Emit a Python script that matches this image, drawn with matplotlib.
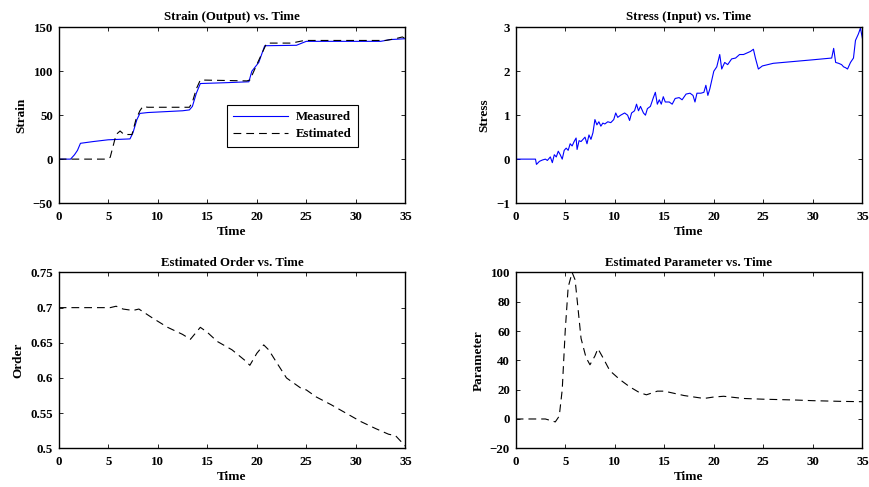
import numpy as np
import matplotlib
matplotlib.use("Agg")
import matplotlib.pyplot as plt

plt.rcParams["font.family"] = ["Liberation Serif", "DejaVu Serif"]
plt.rcParams["font.weight"] = "bold"
plt.rcParams["font.size"] = 9.3
plt.rcParams["axes.titlesize"] = 9.3
plt.rcParams["axes.titleweight"] = "bold"
plt.rcParams["axes.labelweight"] = "bold"
plt.rcParams["axes.labelsize"] = 9.5

# strain, measured (blue)
t_meas = [0, 1.2, 1.6, 1.9, 2.2, 3.5, 5.0, 7.2, 7.5, 7.9, 8.2, 9.0, 12.5, 13.2, 13.5,
          13.9, 14.3, 17.0, 19.2, 19.5, 20.2, 20.8, 24.0, 25.0, 32.5, 33.5, 35.0]
strain_meas = [0, 0, 5, 10, 18, 20, 22, 23, 30, 45, 52, 53, 55, 56, 60,
               75, 86, 87, 88, 100, 110, 129, 129.5, 134, 134, 136, 137]

# strain, estimated (dashed)
t_est = [0, 4.8, 5.2, 5.5, 5.8, 6.2, 6.6, 7.4, 7.8, 8.2, 8.5, 9.0, 13.2, 13.5, 13.9,
         14.3, 19.0, 19.3, 20.1, 21.0, 23.5, 24.8, 33.0, 34.0, 34.7, 35.0]
strain_est = [0, 0, 2, 15, 28, 32, 28, 28, 45, 55, 60, 59, 59, 65, 80,
              90, 89, 90, 110, 132, 132, 135, 135, 137, 139, 137]

# stress input
t_stress = [0, 2.0, 2.1, 2.4, 2.7, 3.0, 3.2, 3.5, 3.7, 3.9, 4.1, 4.3, 4.5, 4.7, 4.9,
            5.1, 5.3, 5.5, 5.7, 5.9, 6.1, 6.2, 6.4, 6.6, 6.8, 7.0, 7.2, 7.4, 7.6,
            7.8, 8.0, 8.2, 8.4, 8.6, 8.8, 9.0, 9.3, 9.6, 9.9, 10.1, 10.3, 10.6,
            11.0, 11.3, 11.5, 11.7, 12.0, 12.2, 12.4, 12.6, 12.9, 13.1, 13.3, 13.6,
            13.9, 14.1, 14.3, 14.5, 14.7, 14.9, 15.1, 15.5, 15.8, 16.1, 16.5, 16.8,
            17.2, 17.6, 17.9, 18.1, 18.3, 18.7, 19.0, 19.2, 19.4, 19.6, 19.8, 20.0,
            20.3, 20.6, 20.8, 21.1, 21.4, 21.8, 22.2, 22.6, 23.0, 23.4, 23.7, 24.0,
            24.2, 24.5, 24.9, 26.0, 28.0, 30.0, 31.9, 32.1, 32.3, 32.6, 32.9, 33.1,
            33.3, 33.5, 33.8, 34.1, 34.3, 34.6, 34.8, 35.0]
stress = [0, 0, -0.12, -0.05, -0.02, 0.0, -0.03, 0.05, -0.08, 0.1, 0.05, 0.18, 0.1, 0.0, 0.2,
          0.25, 0.2, 0.35, 0.3, 0.4, 0.48, 0.22, 0.42, 0.4, 0.45, 0.5, 0.35, 0.55, 0.45,
          0.6, 0.9, 0.78, 0.85, 0.75, 0.82, 0.8, 0.85, 0.83, 0.9, 1.05, 0.95, 1.0,
          1.05, 1.0, 0.88, 1.05, 1.1, 1.25, 1.1, 1.2, 1.05, 1.0, 1.15, 1.2,
          1.4, 1.52, 1.25, 1.35, 1.25, 1.42, 1.3, 1.3, 1.25, 1.38, 1.4, 1.35,
          1.48, 1.5, 1.45, 1.3, 1.5, 1.5, 1.52, 1.68, 1.45, 1.6, 1.8, 2.0,
          2.1, 2.38, 2.05, 2.2, 2.15, 2.28, 2.3, 2.38, 2.38, 2.42, 2.45, 2.5,
          2.3, 2.05, 2.12, 2.18, 2.22, 2.26, 2.3, 2.52, 2.2, 2.18, 2.15, 2.1,
          2.08, 2.05, 2.2, 2.3, 2.7, 2.85, 2.98, 2.75]

# estimated order
t_order = [0, 5.2, 5.8, 6.5, 7.5, 8.1, 9.5, 11.0, 12.5, 13.3, 14.3, 15.0, 16.0, 17.5,
           18.8, 19.3, 20.0, 20.7, 21.2, 22.0, 23.0, 24.5, 25.0, 26.0, 27.5, 29.0,
           30.5, 32.0, 33.3, 34.0, 35.0]
order = [0.7, 0.7, 0.702, 0.698, 0.696, 0.698, 0.685, 0.672, 0.662, 0.655, 0.672, 0.665,
         0.652, 0.64, 0.625, 0.618, 0.635, 0.647, 0.64, 0.622, 0.6, 0.585, 0.583, 0.573,
         0.562, 0.55, 0.538, 0.528, 0.52, 0.518, 0.503]

# estimated parameter
t_param = [0, 3.0, 3.5, 4.0, 4.4, 4.7, 5.0, 5.3, 5.7, 6.0, 6.3, 6.6, 7.1, 7.5, 8.0, 8.3,
           8.8, 9.5, 10.5, 11.5, 12.5, 13.2, 14.3, 15.0, 17.0, 19.0, 20.0, 21.0, 23.0,
           25.0, 28.0, 30.0, 33.0, 35.0]
param = [0, 0, -1, -2, 2, 20, 60, 90, 100, 95, 75, 55, 42, 37, 43, 48,
         42, 33, 27, 22, 18, 16.5, 19, 19, 16, 14, 15, 15.5, 14,
         13.5, 13, 12.5, 12, 11.8]

fig = plt.figure(figsize=(8.69, 4.87), dpi=100)
left_x, right_x, w = 0.0675, 0.5934, 0.3990
top_y, bot_y, h = 0.583, 0.0795, 0.361
ax1 = fig.add_axes([left_x, top_y, w, h])
ax2 = fig.add_axes([right_x, top_y, w, h])
ax3 = fig.add_axes([left_x, bot_y, w, h])
ax4 = fig.add_axes([right_x, bot_y, w, h])

dash = (7, 4.5)

ax1.plot(t_meas, strain_meas, color="blue", lw=0.8, label="Measured")
ax1.plot(t_est, strain_est, color="black", lw=0.8, dashes=dash, label="Estimated")
ax1.set_ylim(-50, 150)
ax1.set_yticks([-50, 0, 50, 100, 150])
ax1.set_ylabel("Strain")
ax1.set_title("Strain (Output) vs. Time", pad=5)
leg = ax1.legend(loc="center", bbox_to_anchor=(0.674, 0.44), fancybox=False,
                 framealpha=1, edgecolor="black", handlelength=4.2, borderpad=0.5,
                 labelspacing=0.4, handletextpad=0.6)
leg.get_frame().set_linewidth(0.8)

ax2.plot(t_stress, stress, color="blue", lw=0.8)
ax2.set_ylim(-1, 3)
ax2.set_yticks([-1, 0, 1, 2, 3])
ax2.set_ylabel("Stress")
ax2.set_title("Stress (Input) vs. Time", pad=5)

ax3.plot(t_order, order, color="black", lw=0.8, dashes=dash)
ax3.set_ylim(0.5, 0.75)
ax3.set_yticks([0.5, 0.55, 0.6, 0.65, 0.7, 0.75])
ax3.set_yticklabels(["0.5", "0.55", "0.6", "0.65", "0.7", "0.75"])
ax3.set_ylabel("Order")
ax3.set_title("Estimated Order vs. Time", pad=5)

ax4.plot(t_param, param, color="black", lw=0.8, dashes=dash)
ax4.set_ylim(-20, 100)
ax4.set_yticks([-20, 0, 20, 40, 60, 80, 100])
ax4.set_ylabel("Parameter")
ax4.set_title("Estimated Parameter vs. Time", pad=5)

for ax in (ax1, ax2, ax3, ax4):
    ax.set_xlim(0, 35)
    ax.set_xticks(range(0, 36, 5))
    ax.set_xlabel("Time", labelpad=2.5)
    ax.tick_params(direction="in", top=True, right=True, length=3, width=0.6, pad=4)
    ax.tick_params(axis="x", pad=5.5)
    for s in ax.spines.values():
        s.set_linewidth(1.0)

fig.savefig("out.png", dpi=100)
